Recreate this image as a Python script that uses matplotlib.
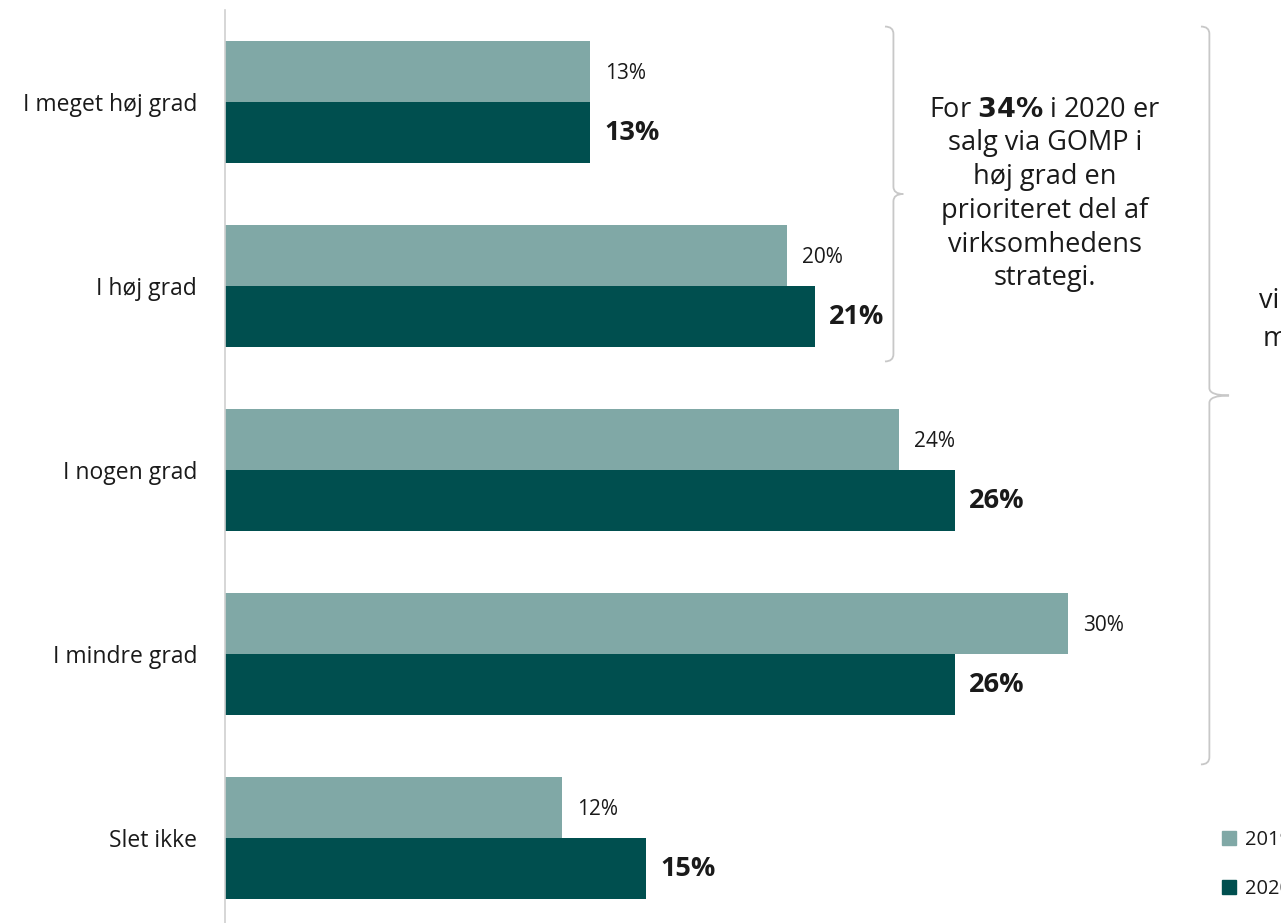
import numpy as np
import matplotlib
matplotlib.use("Agg")
import matplotlib.pyplot as plt
from matplotlib.path import Path
from matplotlib.patches import PathPatch, Patch

plt.rcParams['font.family'] = ['Open Sans', 'DejaVu Sans']

categories = ["I meget høj grad", "I høj grad", "I nogen grad", "I mindre grad", "Slet ikke"]
years = ["2019", "2020"]
values_2019 = [13, 20, 24, 30, 12]
values_2020 = [13, 21, 26, 26, 15]

LIGHT = "#80a8a6"
DARK = "#004f4f"
TEXT = "#1a1a1a"
GRAY = "#c8c8c8"

W, H = 1281, 923
fig = plt.figure(figsize=(W / 100, H / 100), dpi=100)
# axes from the category axis line to the right edge
ax = fig.add_axes([225 / W, (H - 930) / H, (W - 225) / W, 920 / H])

y = np.arange(len(categories))
bh = 0.332
ax.barh(y - bh / 2, values_2019, height=bh, color=LIGHT, label=years[0])
ax.barh(y + bh / 2, values_2020, height=bh, color=DARK, label=years[1])

ax.set_xlim(0, 37.6)
ax.set_ylim(4.5, -0.5)

for i, (a, b) in enumerate(zip(values_2019, values_2020)):
    ax.text(a + 0.55, i - bh / 2 + 0.01, f"{a}%", va="center", ha="left",
            fontsize=15, color=TEXT)
    ax.text(b + 0.5, i + bh / 2, f"{b}%", va="center", ha="left",
            fontsize=19.5, fontweight="bold", color=TEXT)

ax.set_yticks(y)
ax.set_yticklabels(categories, fontsize=16.5, color=TEXT)
ax.tick_params(axis="y", length=0, pad=20)
ax.set_xticks([])
for s in ["top", "right", "bottom"]:
    ax.spines[s].set_visible(False)
ax.spines["left"].set_color("#d0d0d0")
ax.spines["left"].set_linewidth(1.2)


def brace(ax, x, y0, y1, width=0.3, tip=0.35):
    """Right-pointing curly brace at data x, spanning y0..y1."""
    ym = (y0 + y1) / 2
    d = 0.04
    verts = [
        (x - width, y0), (x, y0), (x, y0 + d),
        (x, ym - d), (x, ym), (x + tip, ym),
        (x, ym), (x, ym + d),
        (x, y1 - d), (x, y1), (x - width, y1),
    ]
    codes = [Path.MOVETO, Path.CURVE3, Path.CURVE3,
             Path.LINETO, Path.CURVE3, Path.CURVE3,
             Path.CURVE3, Path.CURVE3,
             Path.LINETO, Path.CURVE3, Path.CURVE3]
    ax.add_patch(PathPatch(Path(verts, codes), fill=False, edgecolor=GRAY,
                           linewidth=1.3, clip_on=False))


brace(ax, 23.8, -0.41, 1.41)
brace(ax, 35.05, -0.41, 3.60, tip=0.7)

note = ("For $\\bf{34\\%}$ i 2020 er\nsalg via GOMP i\nhøj grad en\n"
        "prioriteret del af\nvirksomhedens\nstrategi.")
ax.text(29.2, 0.5, note, ha="center", va="center", fontsize=19.5,
        color=TEXT, linespacing=1.27)

# second note, running off the right edge
ax.text(36.8, 1.08, "vi", ha="left", va="center", fontsize=19.5, color=TEXT,
        clip_on=False)
ax.text(36.95, 1.29, "m", ha="left", va="center", fontsize=19.5, color=TEXT,
        clip_on=False)

handles = [Patch(color=LIGHT), Patch(color=DARK)]
fig.legend(handles, years, loc="upper left",
           bbox_to_anchor=(1204 / W, 1 - 812 / H), frameon=False,
           handlelength=0.7, handleheight=0.7, handletextpad=0.45,
           labelspacing=1.45, fontsize=14.5, labelcolor=TEXT)

fig.savefig("out.png", dpi=100)
